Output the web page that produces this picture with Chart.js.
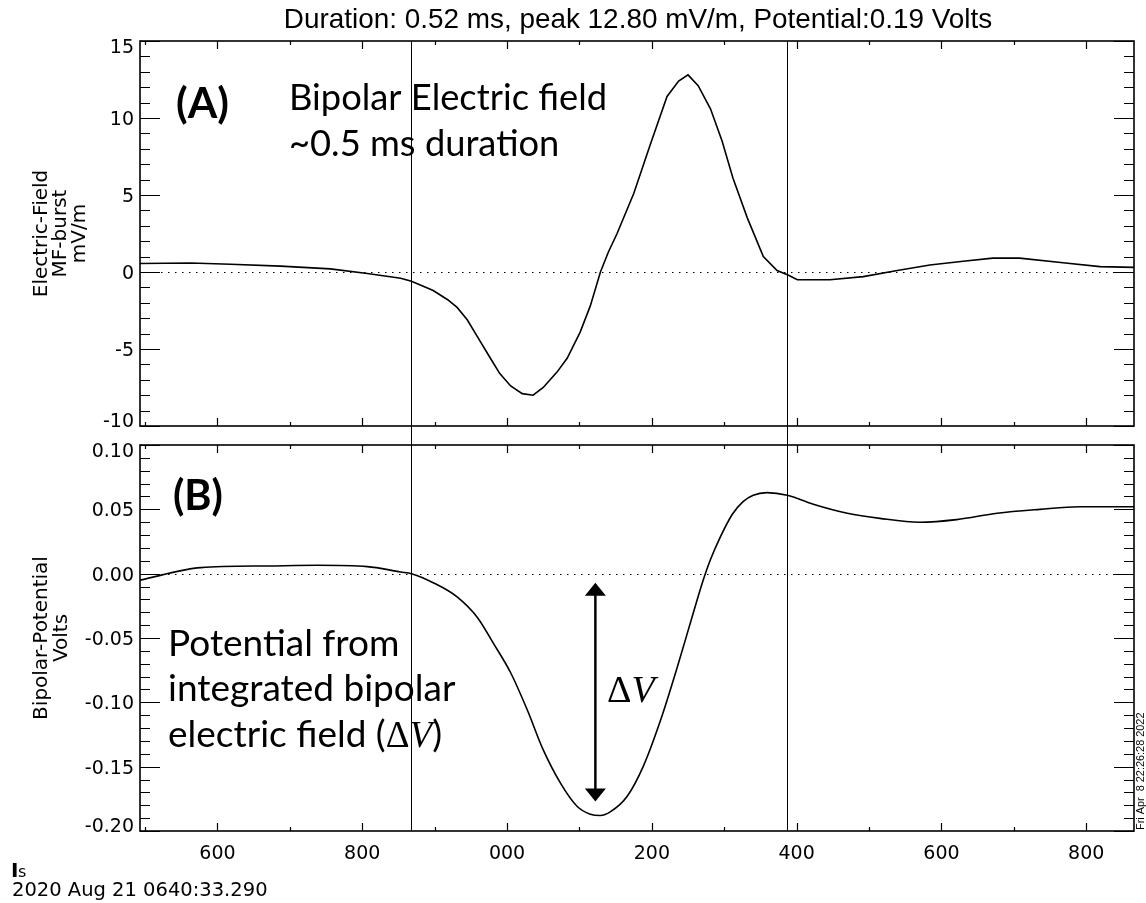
<!DOCTYPE html>
<html>
<head>
<meta charset="utf-8">
<title>Bipolar electric field burst</title>
<script src="https://cdn.jsdelivr.net/npm/chart.js@4.4.1/dist/chart.umd.min.js"></script>
<style>
  html, body { margin: 0; padding: 0; background: #fff; }
  #wrap { position: relative; width: 1146px; height: 903px; }
  #wrap canvas { position: absolute; left: 0; top: 0; }
</style>
</head>
<body>
<div id="wrap">
  <canvas id="field-chart" width="1146" height="903"></canvas>
  <canvas id="potential-chart" width="1146" height="903"></canvas>
</div>
<script>
// Time axis: microseconds after 0640:33.290 (labels wrap every 1000)
const timeRange = [493, 1866];
const timeTicks = [600, 800, 1000, 1200, 1400, 1600, 1800];
const markerTimes = [868, 1387];

// Panel A: electric field, mV/m
const fieldTimes = [493, 563, 618, 687, 756, 807, 853, 868, 898, 918, 931, 945, 959, 977, 990, 1005, 1021, 1036,
    1050, 1069, 1083, 1101, 1115, 1129, 1140, 1152, 1175, 1198, 1221, 1237, 1250, 1264, 1281, 1297, 1312,
    1332, 1354, 1373, 1388, 1401, 1446, 1492, 1539, 1584, 1630, 1671, 1708, 1768, 1819, 1866];
const fieldValues = [0.55, 0.58, 0.5, 0.38, 0.2, -0.1, -0.4, -0.6, -1.2, -1.8, -2.3, -3.1, -4.2, -5.6, -6.6, -7.4, -7.9, -8.0,
    -7.5, -6.5, -5.6, -3.9, -2.2, 0.0, 1.3, 2.5, 5.1, 8.3, 11.4, 12.4, 12.8, 12.1, 10.6, 8.5, 6.1,
    3.5, 1.0, 0.1, -0.2, -0.5, -0.5, -0.3, 0.1, 0.45, 0.7, 0.9, 0.9, 0.6, 0.35, 0.3];
const fieldRange = [-10, 15];
const fieldTicks = [-10, -5, 0, 5, 10, 15];

// Panel B: integrated potential, Volts
const potentialTimes = [493, 577, 669, 738, 807, 853, 868, 898, 931, 959, 981, 1005, 1028, 1050, 1074, 1097,
    1115, 1129, 1143, 1166, 1188, 1212, 1235, 1257, 1271, 1281, 1295, 1311, 1326, 1340, 1359, 1387, 1423,
    1470, 1515, 1570, 1621, 1677, 1736, 1791, 1866];
const potentialValues = [-0.005, 0.0047, 0.006, 0.0065, 0.0055, 0.0013, 0.0, -0.007, -0.018, -0.034, -0.054, -0.077, -0.106, -0.137, -0.163, -0.181,
    -0.187, -0.188, -0.185, -0.173, -0.150, -0.114, -0.073, -0.031, -0.005, 0.011, 0.029, 0.046, 0.056, 0.061, 0.063, 0.061, 0.054,
    0.047, 0.043, 0.040, 0.042, 0.047, 0.050, 0.052, 0.052];
const potentialRange = [-0.2, 0.1];
const potentialTicks = [-0.2, -0.15, -0.1, -0.05, 0, 0.05, 0.1];

// Delta V arrow (time, and the two ends in Volts)
const deltaVTime = 1122;
const deltaVEnds = [-0.007, -0.177];

const tickFont = '19px "DejaVu Sans"';

// Pick a font size so the text fills a given width
function fitFont(ctx, text, style, family, width) {
    ctx.font = `${style} 100px ${family}`;
    const size = 100 * width / ctx.measureText(text).width;
    return `${style} ${size.toFixed(1)}px ${family}`;
}

function timeLabel(v) {
    return String(Math.round(v) % 1000).padStart(3, '0');
}

// IDL style frame: box, inward ticks on all sides, dotted zero line, y labels
const panelFrame = {
    id: 'panelFrame',
    beforeDatasetsDraw(chart, args, opts) {
        const { ctx, chartArea: a, scales: { y } } = chart;
        const y0 = Math.round(y.getPixelForValue(0)) + 0.5;
        ctx.save();
        ctx.strokeStyle = '#000';
        ctx.lineWidth = 1;
        ctx.setLineDash([1.5, 5.5]);
        ctx.beginPath();
        ctx.moveTo(a.left, y0);
        ctx.lineTo(a.right, y0);
        ctx.stroke();
        ctx.restore();
    },
    afterDraw(chart, args, opts) {
        const { ctx, chartArea: a, scales: { x, y } } = chart;
        ctx.save();
        ctx.strokeStyle = '#000';
        ctx.lineWidth = 1.6;
        ctx.strokeRect(a.left, a.top, a.right - a.left, a.bottom - a.top);

        ctx.lineWidth = 1.2;
        ctx.beginPath();
        for (let k = Math.ceil(x.min / opts.xMinor); k * opts.xMinor <= x.max; k++) {
            const len = k % opts.xPerMajor === 0 ? 8 : 4;
            const px = Math.round(x.getPixelForValue(k * opts.xMinor)) + 0.5;
            ctx.moveTo(px, a.bottom);
            ctx.lineTo(px, a.bottom - len);
            ctx.moveTo(px, a.top);
            ctx.lineTo(px, a.top + len);
        }
        for (let k = Math.ceil(y.min / opts.yMinor - 1e-6); k * opts.yMinor <= y.max + 1e-9; k++) {
            const len = k % opts.yPerMajor === 0 ? 20 : 10;
            const py = Math.round(y.getPixelForValue(k * opts.yMinor)) + 0.5;
            ctx.moveTo(a.left, py);
            ctx.lineTo(a.left + len, py);
            ctx.moveTo(a.right, py);
            ctx.lineTo(a.right - len, py);
        }
        ctx.stroke();

        // y tick labels, end labels kept inside the axis
        ctx.fillStyle = '#000';
        ctx.font = tickFont;
        ctx.textAlign = 'right';
        ctx.textBaseline = 'alphabetic';
        y.ticks.forEach(t => {
            let cy = y.getPixelForValue(t.value);
            cy = Math.min(Math.max(cy, a.top + 5), a.bottom - 6);
            ctx.fillText(opts.format(t.value), a.left - 6, cy + 7);
        });

        // rotated axis title
        ctx.font = '20px "DejaVu Sans"';
        ctx.textAlign = 'center';
        const cy = (a.top + a.bottom) / 2;
        opts.title.forEach((line, i) => {
            ctx.save();
            ctx.translate(opts.titleX[i], cy);
            ctx.rotate(-Math.PI / 2);
            ctx.fillText(line, 0, 0);
            ctx.restore();
        });
        ctx.restore();
    }
};

// Panel A texts
const fieldNotes = {
    id: 'fieldNotes',
    afterDraw(chart) {
        const ctx = chart.ctx;
        ctx.save();
        ctx.fillStyle = '#000';
        ctx.textBaseline = 'alphabetic';
        ctx.textAlign = 'center';
        const title = 'Duration: 0.52 ms, peak 12.80 mV/m, Potential:0.19 Volts';
        ctx.font = fitFont(ctx, title, '', '"Liberation Sans"', 710);
        ctx.fillText(title, 638, 28);

        ctx.textAlign = 'left';
        ctx.font = fitFont(ctx, '(A)', 'bold', 'Lato', 53);
        ctx.fillText('(A)', 176, 118);
        ctx.font = fitFont(ctx, 'Bipolar Electric field', '', 'Lato', 318);
        ctx.fillText('Bipolar Electric field', 289, 110);
        ctx.fillText('~0.5 ms duration', 289, 156);
        ctx.restore();
    }
};

// Panel B texts, markers and the delta V arrow
const potentialNotes = {
    id: 'potentialNotes',
    afterDraw(chart) {
        const { ctx, chartArea: a, scales: { x, y } } = chart;
        ctx.save();
        ctx.fillStyle = '#000';
        ctx.strokeStyle = '#000';

        // marker lines run through both panels
        const top = fieldChart.chartArea.top;
        ctx.lineWidth = 1;
        ctx.beginPath();
        markerTimes.forEach(t => {
            const px = Math.round(x.getPixelForValue(t)) + 0.5;
            ctx.moveTo(px, top);
            ctx.lineTo(px, a.bottom);
        });
        ctx.stroke();

        // delta V arrow
        const ax = x.getPixelForValue(deltaVTime);
        const y1 = y.getPixelForValue(deltaVEnds[0]);
        const y2 = y.getPixelForValue(deltaVEnds[1]);
        ctx.lineWidth = 2.5;
        ctx.beginPath();
        ctx.moveTo(ax, y1 + 10);
        ctx.lineTo(ax, y2 - 10);
        ctx.stroke();
        ctx.beginPath();
        ctx.moveTo(ax, y1);
        ctx.lineTo(ax - 10.5, y1 + 13);
        ctx.lineTo(ax + 10.5, y1 + 13);
        ctx.closePath();
        ctx.moveTo(ax, y2);
        ctx.lineTo(ax - 10.5, y2 - 13);
        ctx.lineTo(ax + 10.5, y2 - 13);
        ctx.closePath();
        ctx.fill();

        ctx.textBaseline = 'alphabetic';
        ctx.textAlign = 'left';
        ctx.font = '38px "Liberation Serif"';
        ctx.fillText('\u0394', 607, 702);
        const dw = ctx.measureText('\u0394').width;
        ctx.font = 'italic 38px "Liberation Serif"';
        ctx.fillText('V', 607 + dw, 702);

        ctx.font = fitFont(ctx, '(B)', 'bold', 'Lato', 50);
        ctx.fillText('(B)', 173, 510);

        const bodyFont = fitFont(ctx, 'integrated bipolar', '', 'Lato', 287);
        const size = parseFloat(bodyFont);
        ctx.font = bodyFont;
        ctx.fillText('Potential from', 168, 656);
        ctx.fillText('integrated bipolar', 168, 701);
        let cx = 168;
        const parts = [
            ['electric field (', bodyFont],
            ['\u0394', `${size}px "Liberation Serif"`],
            ['V', `italic ${size}px "Liberation Serif"`],
            [')', bodyFont]
        ];
        parts.forEach(([text, font]) => {
            ctx.font = font;
            ctx.fillText(text, cx, 747);
            cx += ctx.measureText(text).width;
        });

        // time unit and date under the axis, print stamp on the right
        ctx.font = 'bold 20px "DejaVu Sans"';
        ctx.fillText('I', 11, 877);
        ctx.font = '16px "DejaVu Sans"';
        ctx.fillText('s', 18, 877);
        const date = '2020 Aug 21 0640:33.290';
        ctx.font = fitFont(ctx, date, '', '"DejaVu Sans"', 255);
        ctx.fillText(date, 12, 896);

        const stamp = 'Fri Apr  8 22:26:28 2022';
        ctx.font = fitFont(ctx, stamp, '', '"Liberation Sans"', 118);
        ctx.translate(1144, 830);
        ctx.rotate(-Math.PI / 2);
        ctx.fillText(stamp, 0, 0);
        ctx.restore();
    }
};

function xScale(showLabels) {
    return {
        type: 'linear',
        min: timeRange[0],
        max: timeRange[1],
        grid: { display: false, drawTicks: false },
        border: { display: false },
        afterBuildTicks: s => { s.ticks = timeTicks.map(v => ({ value: v })); },
        ticks: {
            display: showLabels,
            autoSkip: false,
            maxRotation: 0,
            padding: 12,
            color: '#000',
            font: { family: 'DejaVu Sans', size: 19 },
            callback: v => timeLabel(v)
        },
        afterFit: s => { s.height = showLabels ? 40 : 0; }
    };
}

function yScale(range, ticks) {
    return {
        min: range[0],
        max: range[1],
        grid: { display: false, drawTicks: false },
        border: { display: false },
        afterBuildTicks: s => { s.ticks = ticks.map(v => ({ value: v })); },
        ticks: { display: false },
        afterFit: s => { s.width = 140; }
    };
}

const fieldChart = new Chart(document.getElementById('field-chart'), {
    type: 'line',
    data: {
        datasets: [{
            data: fieldTimes.map((t, i) => ({ x: t, y: fieldValues[i] })),
            borderColor: '#000',
            borderWidth: 1.6,
            pointRadius: 0,
            tension: 0
        }]
    },
    options: {
        responsive: false,
        animation: false,
        events: [],
        layout: { padding: { left: 0, top: 41, right: 12, bottom: 903 - 426 } },
        plugins: {
            legend: { display: false },
            tooltip: { enabled: false },
            panelFrame: {
                xMinor: 100, xPerMajor: 2, yMinor: 1, yPerMajor: 5,
                format: v => String(v),
                title: ['Electric-Field', 'MF-burst', 'mV/m'],
                titleX: [47, 66, 85]
            }
        },
        scales: { x: xScale(false), y: yScale(fieldRange, fieldTicks) }
    },
    plugins: [panelFrame, fieldNotes]
});

const potentialChart = new Chart(document.getElementById('potential-chart'), {
    type: 'line',
    data: {
        datasets: [{
            data: potentialTimes.map((t, i) => ({ x: t, y: potentialValues[i] })),
            borderColor: '#000',
            borderWidth: 1.6,
            pointRadius: 0,
            cubicInterpolationMode: 'monotone'
        }]
    },
    options: {
        responsive: false,
        animation: false,
        events: [],
        layout: { padding: { left: 0, top: 445, right: 12, bottom: 903 - 831 - 40 } },
        plugins: {
            legend: { display: false },
            tooltip: { enabled: false },
            panelFrame: {
                xMinor: 100, xPerMajor: 2, yMinor: 0.01, yPerMajor: 5,
                format: v => (Math.abs(v) < 1e-9 ? 0 : v).toFixed(2),
                title: ['Bipolar-Potential', 'Volts'],
                titleX: [47, 67]
            }
        },
        scales: { x: xScale(true), y: yScale(potentialRange, potentialTicks) }
    },
    plugins: [panelFrame, potentialNotes]
});
</script>
</body>
</html>
